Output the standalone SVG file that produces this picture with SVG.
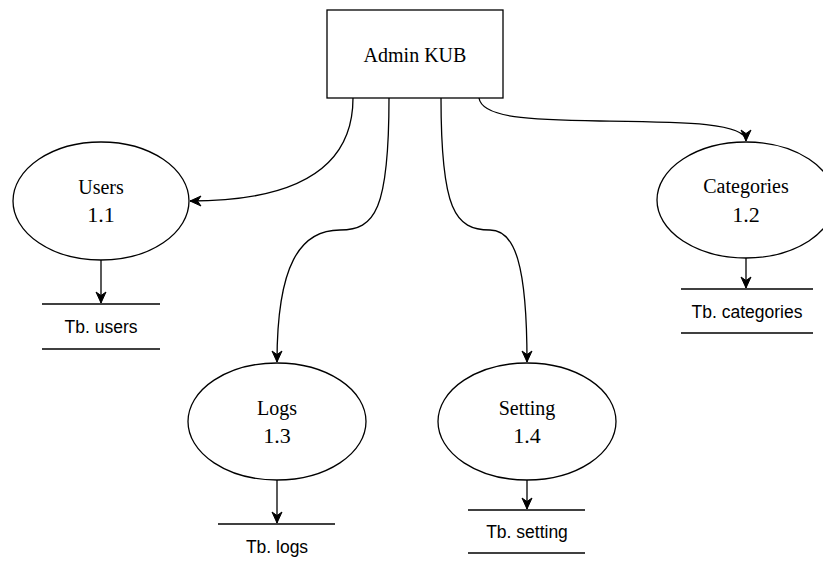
<svg xmlns="http://www.w3.org/2000/svg" width="823" height="564" viewBox="0 0 823 564">
<style>
.shape{fill:#fff;stroke:#000;stroke-width:1.3}
.edge{fill:none;stroke:#000;stroke-width:1.3}
.store{stroke:#000;stroke-width:1.3}
.name{font-family:"Liberation Serif","Times New Roman",serif;font-size:20px;fill:#000;text-anchor:middle}
.num{font-family:"Liberation Serif","Times New Roman",serif;font-size:22px;fill:#000;text-anchor:middle}
.tb{font-family:"Liberation Sans",Arial,sans-serif;font-size:17.5px;fill:#000;text-anchor:middle}
</style>
<defs>
<marker id="arr" markerUnits="userSpaceOnUse" markerWidth="14" markerHeight="14" refX="12" refY="6" orient="auto">
<path d="M1 1 L12 6 L1 11 L4.5 6 Z" fill="#000" stroke="#000" stroke-width="1"/>
</marker>
</defs>
<rect width="823" height="564" fill="#fff"/>
<g id="connectors">
<path class="edge" d="M353 98 C353 175 285 201 190 201" marker-end="url(#arr)"/>
<path class="edge" d="M389 98 C389 210 375 230 340 230 C300 230 277 265 277 362" marker-end="url(#arr)"/>
<path class="edge" d="M441 98 C441 210 455 230 490 230 C515 230 527 265 527 362" marker-end="url(#arr)"/>
<path class="edge" d="M479 98 C482 118 530 120 600 121 C680 122 746 122 746 141" marker-end="url(#arr)"/>
<path class="edge" d="M101 260 L101 303" marker-end="url(#arr)"/>
<path class="edge" d="M746 258 L746 288" marker-end="url(#arr)"/>
<path class="edge" d="M277 480 L277 523" marker-end="url(#arr)"/>
<path class="edge" d="M527 480 L527 509" marker-end="url(#arr)"/>
</g>
<g id="admin">
<rect class="shape" x="327" y="10" width="176" height="88"/>
<text class="name" x="415" y="62">Admin KUB</text>
</g>
<g id="users">
<ellipse class="shape" cx="101" cy="201" rx="88" ry="59"/>
<text class="name" x="101" y="194">Users</text>
<text class="num" x="101" y="222">1.1</text>
</g>
<g id="categories">
<ellipse class="shape" cx="746" cy="200" rx="89" ry="58"/>
<text class="name" x="746" y="193">Categories</text>
<text class="num" x="746" y="222">1.2</text>
</g>
<g id="logs">
<ellipse class="shape" cx="277" cy="421.5" rx="89" ry="58.5"/>
<text class="name" x="277" y="415">Logs</text>
<text class="num" x="277" y="443">1.3</text>
</g>
<g id="setting">
<ellipse class="shape" cx="527" cy="421.5" rx="89" ry="58.5"/>
<text class="name" x="527" y="415">Setting</text>
<text class="num" x="527" y="443">1.4</text>
</g>
<g id="tb-users">
<line class="store" x1="42" y1="304" x2="160" y2="304"/>
<line class="store" x1="42" y1="349" x2="160" y2="349"/>
<text class="tb" x="101" y="333">Tb. users</text>
</g>
<g id="tb-categories">
<line class="store" x1="681" y1="289" x2="813" y2="289"/>
<line class="store" x1="681" y1="333" x2="813" y2="333"/>
<text class="tb" x="747" y="318">Tb. categories</text>
</g>
<g id="tb-logs">
<line class="store" x1="218" y1="524" x2="335" y2="524"/>
<text class="tb" x="277" y="553">Tb. logs</text>
</g>
<g id="tb-setting">
<line class="store" x1="468" y1="510" x2="585" y2="510"/>
<line class="store" x1="468" y1="553" x2="585" y2="553"/>
<text class="tb" x="527" y="538">Tb. setting</text>
</g>
</svg>
